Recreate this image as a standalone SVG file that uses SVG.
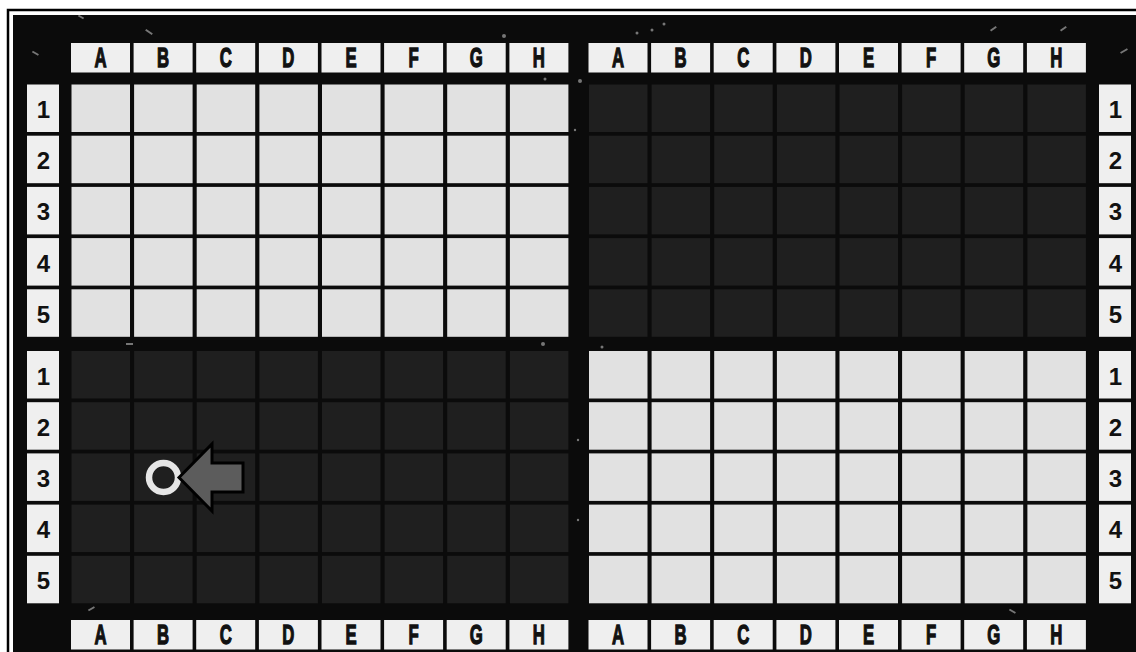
<svg xmlns="http://www.w3.org/2000/svg" width="1136" height="652" viewBox="0 0 1136 652">
<style>
.lt{fill:#e1e1e1}
.dk{fill:#1f1f1f}
.hd{fill:#efefef}
.hl{font-family:"Liberation Sans",Arial,sans-serif;font-weight:bold;font-size:27px;fill:#111;text-anchor:middle;stroke:#111;stroke-width:1.3}
.rl{font-family:"Liberation Sans",Arial,sans-serif;font-weight:bold;font-size:24px;fill:#111;text-anchor:middle}
.sp{fill:#cfcfcf;opacity:0.55}
</style>
<defs>
<g id="rowL"><rect class="lt" x="0" y="0" width="58.5" height="47.5"/><rect class="lt" x="62.6" y="0" width="58.5" height="47.5"/><rect class="lt" x="125.2" y="0" width="58.5" height="47.5"/><rect class="lt" x="187.9" y="0" width="58.5" height="47.5"/><rect class="lt" x="250.5" y="0" width="58.5" height="47.5"/><rect class="lt" x="313.1" y="0" width="58.5" height="47.5"/><rect class="lt" x="375.7" y="0" width="58.5" height="47.5"/><rect class="lt" x="438.4" y="0" width="58.5" height="47.5"/></g>
<g id="rowD"><rect class="dk" x="0" y="0" width="58.5" height="47.5"/><rect class="dk" x="62.6" y="0" width="58.5" height="47.5"/><rect class="dk" x="125.2" y="0" width="58.5" height="47.5"/><rect class="dk" x="187.9" y="0" width="58.5" height="47.5"/><rect class="dk" x="250.5" y="0" width="58.5" height="47.5"/><rect class="dk" x="313.1" y="0" width="58.5" height="47.5"/><rect class="dk" x="375.7" y="0" width="58.5" height="47.5"/><rect class="dk" x="438.4" y="0" width="58.5" height="47.5"/></g>
<g id="hdr"><rect class="hd" x="0" y="0" width="59" height="29.5"/><rect class="hd" x="62.6" y="0" width="59" height="29.5"/><rect class="hd" x="125.2" y="0" width="59" height="29.5"/><rect class="hd" x="187.9" y="0" width="59" height="29.5"/><rect class="hd" x="250.5" y="0" width="59" height="29.5"/><rect class="hd" x="313.1" y="0" width="59" height="29.5"/><rect class="hd" x="375.7" y="0" width="59" height="29.5"/><rect class="hd" x="438.4" y="0" width="59" height="29.5"/>
<g transform="scale(0.62,1)"><text class="hl" x="47.6" y="24">A</text><text class="hl" x="148.5" y="24">B</text><text class="hl" x="249.5" y="24">C</text><text class="hl" x="350.6" y="24">D</text><text class="hl" x="451.6" y="24">E</text><text class="hl" x="552.6" y="24">F</text><text class="hl" x="653.5" y="24">G</text><text class="hl" x="754.6" y="24">H</text></g></g>
<g id="rlab"><rect class="hd" x="0" y="0" width="32" height="47.5"/><rect class="hd" x="0" y="51.2" width="32" height="47.5"/><rect class="hd" x="0" y="102.4" width="32" height="47.5"/><rect class="hd" x="0" y="153.6" width="32" height="47.5"/><rect class="hd" x="0" y="204.8" width="32" height="47.5"/>
<text class="rl" x="16.5" y="33.5">1</text><text class="rl" x="16.5" y="84.7">2</text><text class="rl" x="16.5" y="135.9">3</text><text class="rl" x="16.5" y="187.1">4</text><text class="rl" x="16.5" y="238.3">5</text></g>
</defs>
<rect x="0" y="0" width="1136" height="652" fill="#ffffff"/>
<path d="M8 652 V10 H1136" fill="none" stroke="#000" stroke-width="2.5"/>
<rect x="13" y="15" width="1123" height="637" fill="#0b0b0b"/>
<g id="speckles">
<rect class="sp" x="78" y="16" width="6" height="2" transform="rotate(30 81 17)"/>
<rect class="sp" x="145" y="31" width="8" height="2" transform="rotate(35 149 32)"/>
<rect class="sp" x="32" y="52" width="7" height="2" transform="rotate(30 35 53)"/>
<circle class="sp" cx="504" cy="36" r="2"/>
<circle class="sp" cx="637" cy="33" r="1.5"/>
<circle class="sp" cx="652" cy="30" r="1.5"/>
<circle class="sp" cx="664" cy="24" r="1.5"/>
<circle class="sp" cx="580" cy="81" r="2"/>
<circle class="sp" cx="545" cy="79" r="1.5"/>
<circle class="sp" cx="575" cy="130" r="1.2"/>
<circle class="sp" cx="543" cy="344" r="2"/>
<circle class="sp" cx="602" cy="347" r="1.5"/>
<circle class="sp" cx="578" cy="440" r="1.2"/>
<circle class="sp" cx="578" cy="520" r="1.2"/>
<rect class="sp" x="1120" y="50" width="8" height="2" transform="rotate(-30 1124 51)"/>
<rect class="sp" x="990" y="28" width="7" height="2" transform="rotate(-35 993 29)"/>
<rect class="sp" x="1060" y="28" width="7" height="2" transform="rotate(-35 1063 29)"/>
<rect class="sp" x="126" y="343" width="7" height="2"/>
<rect class="sp" x="1009" y="610" width="7" height="2" transform="rotate(30 1012 611)"/>
<rect class="sp" x="88" y="608" width="7" height="2" transform="rotate(-30 91 609)"/>
</g>
<g id="grid-top-left">
<use href="#rowL" x="71.5" y="84.5"/><use href="#rowL" x="71.5" y="135.7"/><use href="#rowL" x="71.5" y="186.9"/><use href="#rowL" x="71.5" y="238.1"/><use href="#rowL" x="71.5" y="289.3"/>
</g>
<g id="grid-top-right">
<use href="#rowD" x="589" y="84.5"/><use href="#rowD" x="589" y="135.7"/><use href="#rowD" x="589" y="186.9"/><use href="#rowD" x="589" y="238.1"/><use href="#rowD" x="589" y="289.3"/>
</g>
<g id="grid-bottom-left">
<use href="#rowD" x="71.5" y="351"/><use href="#rowD" x="71.5" y="402.2"/><use href="#rowD" x="71.5" y="453.4"/><use href="#rowD" x="71.5" y="504.6"/><use href="#rowD" x="71.5" y="555.8"/>
</g>
<g id="grid-bottom-right">
<use href="#rowL" x="589" y="351"/><use href="#rowL" x="589" y="402.2"/><use href="#rowL" x="589" y="453.4"/><use href="#rowL" x="589" y="504.6"/><use href="#rowL" x="589" y="555.8"/>
</g>
<g id="headers-top"><use href="#hdr" x="71" y="43"/><use href="#hdr" x="588.5" y="43"/></g>
<g id="headers-bottom"><use href="#hdr" x="71" y="620"/><use href="#hdr" x="588.5" y="620"/></g>
<g id="rows-left"><use href="#rlab" x="27" y="84.5"/><use href="#rlab" x="27" y="351"/></g>
<g id="rows-right"><use href="#rlab" x="1099" y="84.5"/><use href="#rlab" x="1099" y="351"/></g>
<g id="marker">
<circle cx="163.5" cy="477.5" r="14.5" fill="none" stroke="#e6e6e6" stroke-width="6.5"/>
</g>
<g id="arrow">
<polygon points="179,477.5 212,444 212,463 243,463 243,492 212,492 212,511" fill="#5c5c5c" stroke="#000" stroke-width="3" stroke-linejoin="miter"/>
</g>
</svg>
